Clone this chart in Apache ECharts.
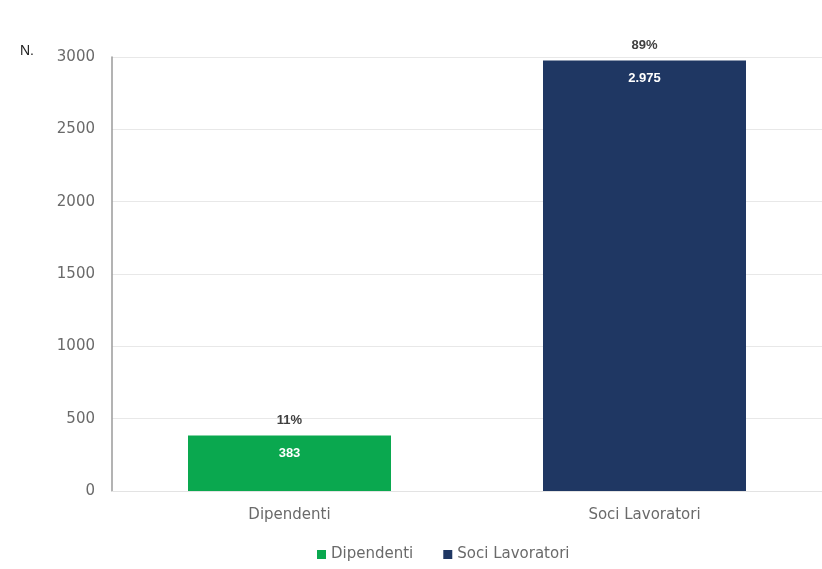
<!DOCTYPE html>
<html>
<head>
<meta charset="utf-8">
<script src="https://cdn.jsdelivr.net/npm/echarts@6/dist/echarts.min.js"></script>
<style>
  html, body { margin: 0; padding: 0; background: #ffffff; }
  #chart { width: 822px; height: 569px; }
</style>
</head>
<body>
<div id="chart"></div>
<script>
// Workforce composition: employees vs. worker-members
const categories = ['Dipendenti', 'Soci Lavoratori'];
const headcount = [383, 2975];
const shareLabels = ['11%', '89%'];
const yTicks = { min: 0, max: 3000, interval: 500 };
const colors = ['#0aa84f', '#1f3763'];

// Italian thousands separator: 2975 -> "2.975"
function fmtIt(v) {
  return String(v).replace(/\B(?=(\d{3})+(?!\d))/g, '.');
}

const chart = echarts.init(document.getElementById('chart'));

const valueSeries = categories.map((name, i) => ({
  name: name,
  type: 'bar',
  barWidth: 203,
  barGap: '-100%',
  data: categories.map((_, j) => (j === i ? headcount[j] : '-')),
  itemStyle: { color: colors[i] },
  label: {
    show: true,
    position: 'insideTop',
    distance: 11,
    color: '#ffffff',
    fontFamily: 'Liberation Sans',
    fontWeight: 'bold',
    fontSize: 13,
    formatter: p => fmtIt(p.value)
  }
}));

// Transparent overlay bars that carry the percentage labels above each column
const shareSeries = {
  name: 'share',
  type: 'bar',
  barWidth: 203,
  barGap: '-100%',
  silent: true,
  data: headcount.slice(),
  itemStyle: { color: 'rgba(0,0,0,0)' },
  label: {
    show: true,
    position: 'top',
    distance: 9,
    color: '#404040',
    fontFamily: 'Liberation Sans',
    fontWeight: 'bold',
    fontSize: 13,
    formatter: p => shareLabels[p.dataIndex]
  }
};

const axisFont = { fontFamily: 'DejaVu Sans', fontSize: 15, color: '#6a6a6a' };

chart.setOption({
  animation: false,
  backgroundColor: '#ffffff',
  graphic: [{
    type: 'text',
    left: 20,
    top: 44,
    style: { text: 'N.', fontFamily: 'Liberation Sans', fontSize: 14, fill: '#222222' }
  }],
  legend: {
    data: categories,
    bottom: 2,
    left: 312,
    itemWidth: 9,
    itemHeight: 9,
    itemGap: 30,
    icon: 'rect',
    textStyle: axisFont
  },
  grid: { left: 112, right: 0, top: 57, bottom: 78 },
  xAxis: {
    type: 'category',
    data: categories,
    axisTick: { show: false },
    axisLine: { show: true, lineStyle: { color: '#e3e3e3' } },
    axisLabel: Object.assign({ margin: 17 }, axisFont)
  },
  yAxis: {
    type: 'value',
    min: yTicks.min,
    max: yTicks.max,
    interval: yTicks.interval,
    axisLine: { show: true, lineStyle: { color: '#9a9a9a', width: 1.5 } },
    axisTick: { show: false },
    splitLine: { lineStyle: { color: '#e8e8e8' } },
    axisLabel: Object.assign({ margin: 17, formatter: v => String(v) }, axisFont)
  },
  series: valueSeries.concat([shareSeries])
});
</script>
</body>
</html>
